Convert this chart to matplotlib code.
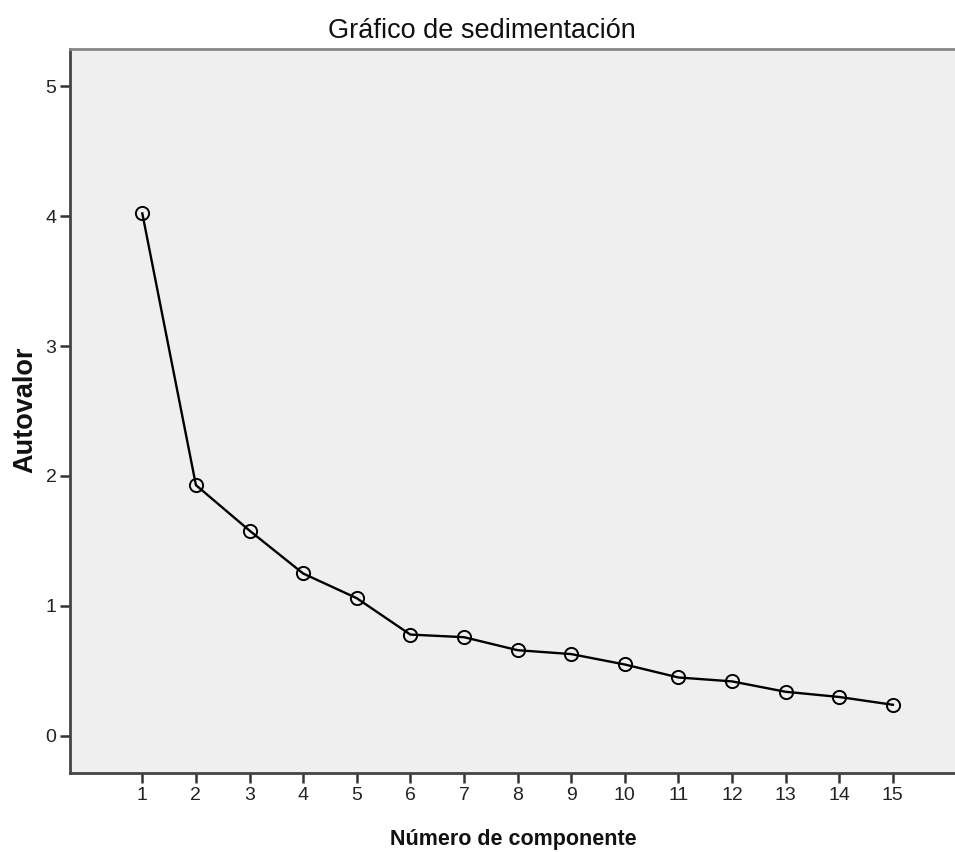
import matplotlib.pyplot as plt

componentes = list(range(1, 16))
autovalores = [4.02, 1.93, 1.58, 1.25, 1.06, 0.78, 0.76, 0.66, 0.63, 0.55,
               0.45, 0.42, 0.34, 0.30, 0.24]
yticks = [0, 1, 2, 3, 4, 5]

plt.rcParams['font.family'] = ['Liberation Sans', 'DejaVu Sans']

fig = plt.figure(figsize=(9.55, 8.52), dpi=100)
ax = fig.add_axes([0.0738, 0.0927, 0.9262, 0.8498])
ax.set_facecolor('#efefef')

ax.plot(componentes, autovalores, color='black', linewidth=1.7,
        marker='o', markersize=9.5, markerfacecolor='none',
        markeredgecolor='black', markeredgewidth=1.4)

ax.set_xlim(-0.34, 16.16)
ax.set_ylim(-0.285, 5.285)
ax.set_xticks(componentes)
ax.set_yticks(yticks)
ax.tick_params(axis='both', length=7, width=1.8, color='#333333',
               labelcolor='#222222', pad=3)
for lab in ax.get_xticklabels() + ax.get_yticklabels():
    lab.set_fontfamily(['Liberation Sans Narrow', 'Liberation Sans'])
    lab.set_fontsize(14)

for side in ['left', 'bottom']:
    ax.spines[side].set_color('#444444')
    ax.spines[side].set_linewidth(2)
ax.spines['top'].set_color('#888888')
ax.spines['top'].set_linewidth(2)
ax.spines['right'].set_visible(False)

# titles placed in figure coords to match the original layout
fig.text(0.5047, 0.9554, 'Gráfico de sedimentación', fontsize=19.5,
         ha='center', va='baseline', color='#111111')
fig.text(0.537, 0.0082, 'Número de componente', fontsize=15.5,
         fontweight='bold', ha='center', va='baseline', color='#111111')
fig.text(0.026, 0.519, 'Autovalor', fontsize=19.5, fontweight='bold',
         rotation=90, ha='center', va='center', color='#111111')

fig.savefig('out.png', dpi=100)
